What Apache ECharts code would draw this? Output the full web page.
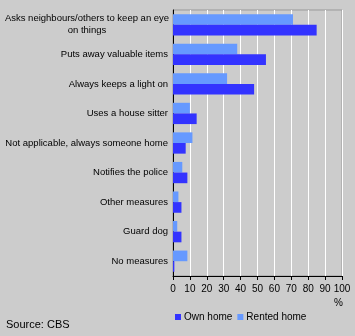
<!DOCTYPE html>
<html><head><meta charset="utf-8">
<script src="https://cdn.jsdelivr.net/npm/echarts@6/dist/echarts.min.js"></script>
<style>html,body{margin:0;padding:0;background:#cccccc}#c{width:355px;height:336px}</style>
</head><body><div id="c"></div>
<script>
var categories = ['Asks neighbours/others to keep an eye\non things','Puts away valuable items','Always keeps a light on','Uses a house sitter','Not applicable, always someone home','Notifies the police','Other measures','Guard dog','No measures'];
var ownHome = [85, 55, 48, 14, 7.5, 8.5, 5, 5, 0.8];
var rentedHome = [71, 38, 32, 10, 11.5, 5.5, 3.2, 2.5, 8.5];
var xTicks = [0,10,20,30,40,50,60,70,80,90,100];
var FONT = '"Liberation Sans", Arial, sans-serif';
var chart = echarts.init(document.getElementById('c'));
chart.setOption({
  backgroundColor: '#cccccc',
  animation: false,
  textStyle: {fontFamily: FONT},
  grid: {left: 173, right: 13, top: 10, bottom: 60, show: true, borderColor: '#999999', borderWidth: 1, backgroundColor: 'transparent', containLabel: false, outerBoundsMode: 'none'},
  xAxis: {type: 'value', min: 0, max: 100, interval: 10,
    axisLine: {show: true, lineStyle: {color: '#000', width: 1}},
    axisTick: {show: true, length: 4, lineStyle: {color: '#000'}},
    axisLabel: {color: '#000', fontSize: 10, fontFamily: FONT, margin: 8, hideOverlap: false, showMaxLabel: true, showMinLabel: true,
      formatter: function(v){return xTicks.indexOf(v) >= 0 ? String(v) : '';}},
    splitLine: {show: true, lineStyle: {color: '#ffffff', width: 1}}},
  yAxis: {type: 'category', data: categories, inverse: true,
    axisLine: {show: true, lineStyle: {color: '#000', width: 1}},
    axisTick: {show: false},
    axisLabel: {color: '#000', fontSize: 9.5, fontFamily: FONT, margin: 5, lineHeight: 12, hideOverlap: false,
      formatter: function(v, i){ return i === 0 ? v.split('\n').map(function(s){return '{c|' + s + '}';}).join('\n') : v; },
      rich: {c: {width: 162, align: 'center', fontSize: 9.5, fontFamily: FONT, color: '#000', lineHeight: 12}}}},
  legend: {data: ['Own home', 'Rented home'], left: 170, top: 307, icon: 'rect', itemWidth: 6, itemHeight: 6, itemGap: 5,
    textStyle: {color: '#000', fontSize: 10, fontFamily: FONT, padding: [0,0,0,-2]}},
  series: [
    {name: 'Rented home', type: 'bar', data: rentedHome, itemStyle: {color: '#6699ff'}, barGap: '0%', barCategoryGap: '28%'},
    {name: 'Own home', type: 'bar', data: ownHome, itemStyle: {color: '#3333ff'}, barGap: '0%', barCategoryGap: '28%'}
  ],
  graphic: [
    {type: 'text', left: 334, top: 298, style: {text: '%', fontSize: 10, fontFamily: FONT, fill: '#000'}},
    {type: 'text', left: 6, top: 319, style: {text: 'Source: CBS', fontSize: 11, fontFamily: FONT, fill: '#000'}}
  ]
});
</script></body></html>
